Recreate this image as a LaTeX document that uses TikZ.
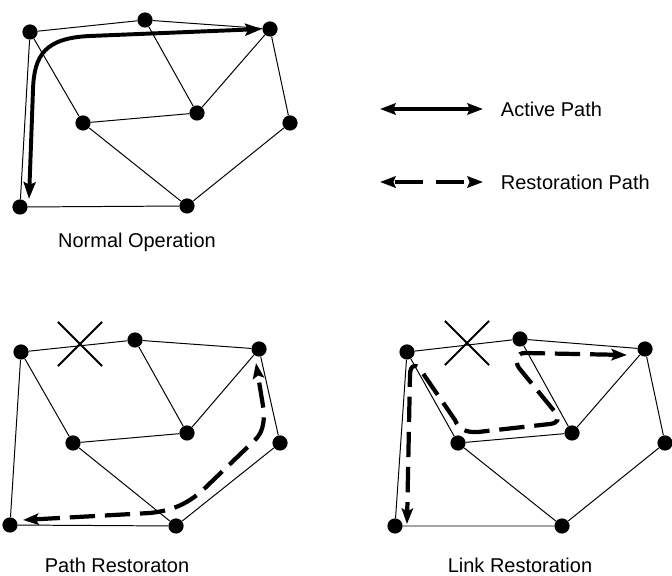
\documentclass[tikz,border=0pt]{standalone}
\usepackage{fontspec}
\setmainfont{Liberation Sans}
\usetikzlibrary{arrows.meta,shapes.misc}
\tikzset{
	dot/.style={circle, fill=black, inner sep=0pt, minimum size=0.38cm},
	link/.style={line width=0.7pt},
	activepath/.style={line width=2.8pt, {Stealth[length=12pt, width=8.5pt, inset=2pt]}-{Stealth[length=12pt, width=8.5pt, inset=2pt]}},
	restorepath/.style={line width=3pt, dash pattern=on 18pt off 7pt, {Stealth[length=11pt, width=8pt, inset=2pt]}-{Stealth[length=11pt, width=8pt, inset=2pt]}},
	keyline/.style={line width=2.4pt, {Stealth[length=11pt, width=8pt, inset=1.5pt]}-{Stealth[length=11pt, width=8pt, inset=1.5pt]}},
	cut/.style={cross out, draw, line width=1.5pt, inner sep=0pt, minimum width=1.05cm, minimum height=1.05cm},
	caption/.style={font=\fontsize{14.2}{17}\selectfont}
}

\begin{document}
\begin{tikzpicture}[x=0.025cm, y=-0.025cm]
	%%%%% START %%%%%
	\useasboundingbox (0, 0) rectangle (672, 576);
	
	%% normal operation
	\node[dot] (a1) at (30, 32) {};
	\node[dot] (b1) at (145, 20) {};
	\node[dot] (c1) at (270, 29) {};
	\node[dot] (d1) at (83, 123) {};
	\node[dot] (e1) at (197, 113) {};
	\node[dot] (f1) at (290, 123) {};
	\node[dot] (g1) at (20, 207) {};
	\node[dot] (h1) at (187, 206) {};
	
	\draw[link] (a1) -- (b1) -- (c1) -- (f1) -- (h1) -- (g1) -- (a1);
	\draw[link] (a1) -- (d1) -- (h1);
	\draw[link] (d1) -- (e1) -- (b1);
	\draw[link] (e1) -- (c1);
	
	\coordinate (g1tip) at (29, 199);
	\draw[activepath] (c1.west) -- (90, 36) .. controls (45, 38) and (34, 55) .. (33, 90) -- (g1tip);
	
	\node[caption] (normal) at (137, 242) {Normal Operation};
	
	%% legend
	\coordinate (act1) at (380, 109);
	\coordinate (act2) at (483, 109);
	\draw[keyline] (act1) -- (act2);
	\node[caption, anchor=west] (acttext) at (496, 109) {Active Path};
	
	\coordinate (res1) at (380, 182);
	\coordinate (res2) at (483, 182);
	\draw[keyline, dash pattern=on 20pt off 9pt, dash phase=-2pt] (res1) -- (res2);
	\node[caption, anchor=west] (restext) at (496, 182) {Restoration Path};
	
	%% path restoration
	\node[dot] (a2) at (21, 352) {};
	\node[dot] (b2) at (135, 340) {};
	\node[dot] (c2) at (259, 349) {};
	\node[dot] (d2) at (73, 443) {};
	\node[dot] (e2) at (187, 433) {};
	\node[dot] (f2) at (280, 443) {};
	\node[dot] (g2) at (10, 525) {};
	\node[dot] (h2) at (176, 526) {};
	
	\draw[link] (a2) -- (b2) -- (c2) -- (f2) -- (h2) -- (g2) -- (a2);
	\draw[link] (a2) -- (d2) -- (h2);
	\draw[link] (d2) -- (e2) -- (b2);
	\draw[link] (e2) -- (c2);
	
	\node[cut] (x2) at (80, 344) {};
	
	\coordinate (g2tip) at (23, 520);
	\coordinate (c2tip) at (256, 363);
	\draw[restorepath] (g2tip) -- (150, 513) .. controls (178, 510) and (192, 500) .. (205, 488) -- (255, 440) .. controls (262, 433) and (264, 425) .. (264, 412) -- (c2tip);
	
	\node[caption] (pathrest) at (117, 565) {Path Restoraton};
	
	%% link restoration
	\node[dot] (a3) at (407, 352) {};
	\node[dot] (b3) at (520, 339) {};
	\node[dot] (c3) at (645, 349) {};
	\node[dot] (d3) at (458, 443) {};
	\node[dot] (e3) at (572, 433) {};
	\node[dot] (f3) at (665, 443) {};
	\node[dot] (g3) at (395, 526) {};
	\node[dot] (h3) at (562, 526) {};
	
	\draw[link] (a3) -- (b3) -- (c3) -- (f3) -- (h3) -- (g3) -- (a3);
	\draw[link] (a3) -- (d3) -- (h3);
	\draw[link] (d3) -- (e3) -- (b3);
	\draw[link] (e3) -- (c3);
	
	\node[cut] (x3) at (467, 343) {};
	
	\coordinate (c3tip) at (627, 355);
	\coordinate (g3tip) at (407, 524);
	\draw[restorepath] (c3tip) -- (525, 353) .. controls (517, 353) and (514, 360) .. (519, 368) -- (555, 412) .. controls (560, 419) and (558, 423) .. (550, 424) -- (478, 432) .. controls (465, 433) and (458, 428) .. (455, 420) -- (422, 372) .. controls (418, 364) and (410, 363) .. (410, 375) -- (g3tip);
	
	\node[caption] (linkrest) at (520, 565) {Link Restoration};
	
	%%%%% END %%%%%
\end{tikzpicture}
\end{document}
